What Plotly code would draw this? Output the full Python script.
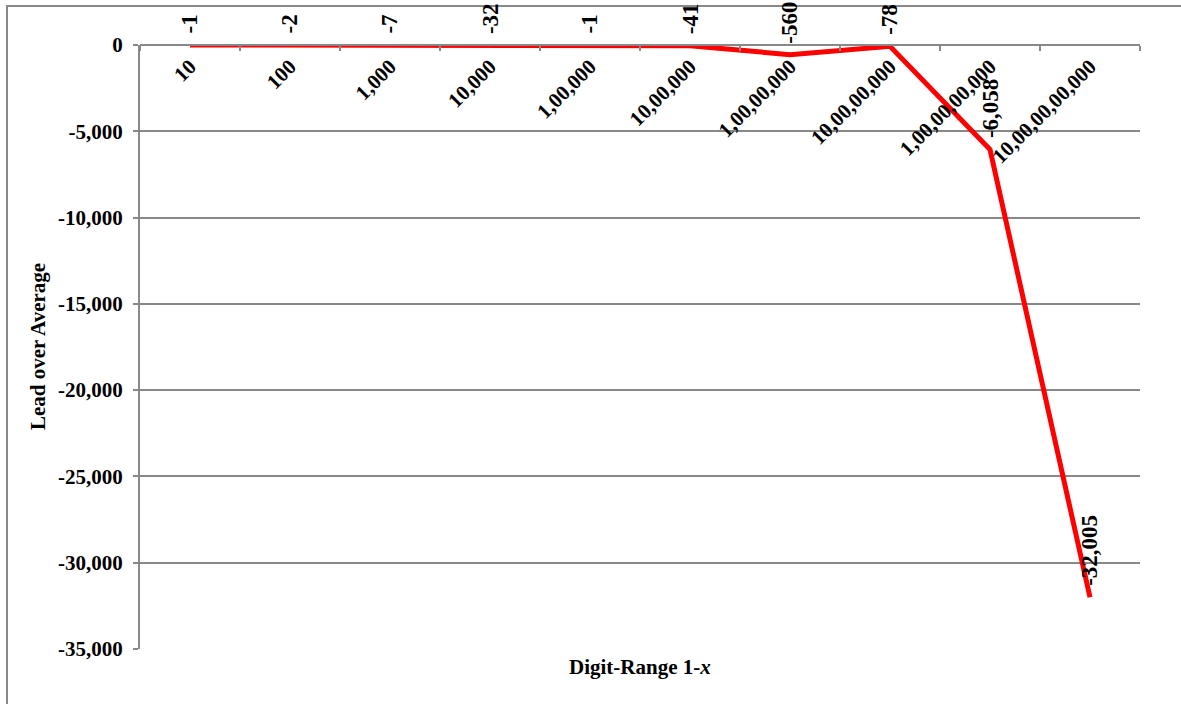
import plotly.graph_objects as go

categories = ["10", "100", "1,000", "10,000", "1,00,000", "10,00,000",
              "1,00,00,000", "10,00,00,000", "1,00,00,00,000", "10,00,00,00,000"]
values = [-1, -2, -7, -32, -1, -41, -560, -78, -6058, -32005]
y_ticks = [0, -5000, -10000, -15000, -20000, -25000, -30000, -35000]

FONT = "Liberation Serif"
GRID = "#888888"

fig = go.Figure()
fig.add_trace(go.Scatter(
    x=categories, y=values, mode="lines",
    line=dict(color="#FF0000", width=5),
    hoverinfo="skip", showlegend=False, cliponaxis=False,
))

annotations = []
for i, v in enumerate(values):
    annotations.append(dict(
        x=i, y=v, xref="x", yref="y", text=f"<b>{v:,}</b>", showarrow=False,
        textangle=-90, xanchor="center", yanchor="bottom", yshift=9,
        font=dict(family=FONT, size=23, color="black"),
    ))

annotations.append(dict(
    x=0.5, y=-0.03, xref="paper", yref="paper",
    text="<b>Digit-Range 1-<i>x</i></b>", showarrow=False,
    xanchor="center", yanchor="middle",
    font=dict(family=FONT, size=21, color="black"),
))
annotations.append(dict(
    x=-0.102, y=0.5, xref="paper", yref="paper",
    text="<b>Lead over Average</b>", showarrow=False, textangle=-90,
    xanchor="center", yanchor="middle",
    font=dict(family=FONT, size=21, color="black"),
))

fig.update_layout(
    width=1181, height=704,
    margin=dict(l=140, r=41, t=45, b=55),
    paper_bgcolor="white", plot_bgcolor="white",
    showlegend=False,
    annotations=annotations,
    shapes=[dict(type="rect", xref="paper", yref="paper",
                 x0=-0.133, x1=1.3, y0=-0.3, y1=1.0646,
                 line=dict(color=GRID, width=2), layer="below")],
    xaxis=dict(
        type="category", anchor="free", position=1, side="bottom",
        tickmode="array", tickvals=categories,
        ticktext=[f"<b>{c}</b>" for c in categories],
        tickson="boundaries", ticks="outside", ticklen=5, tickcolor=GRID,
        tickwidth=1.5, showline=True, linecolor=GRID, linewidth=2,
        showgrid=False, tickangle=-45,
        tickfont=dict(family=FONT, size=21, color="black"),
        range=[-0.5, 9.5], fixedrange=True,
    ),
    yaxis=dict(
        range=[-35000, 0], tickvals=y_ticks,
        ticktext=[f"<b>{t:,}</b>" for t in y_ticks],
        ticks="outside", ticklen=5, tickcolor=GRID, tickwidth=1.5,
        ticklabelstandoff=6,
        showline=True, linecolor=GRID, linewidth=2,
        showgrid=True, gridcolor=GRID, gridwidth=1.5, zeroline=False,
        tickfont=dict(family=FONT, size=21, color="black"),
        fixedrange=True,
    ),
)

fig.write_html("out.html")
